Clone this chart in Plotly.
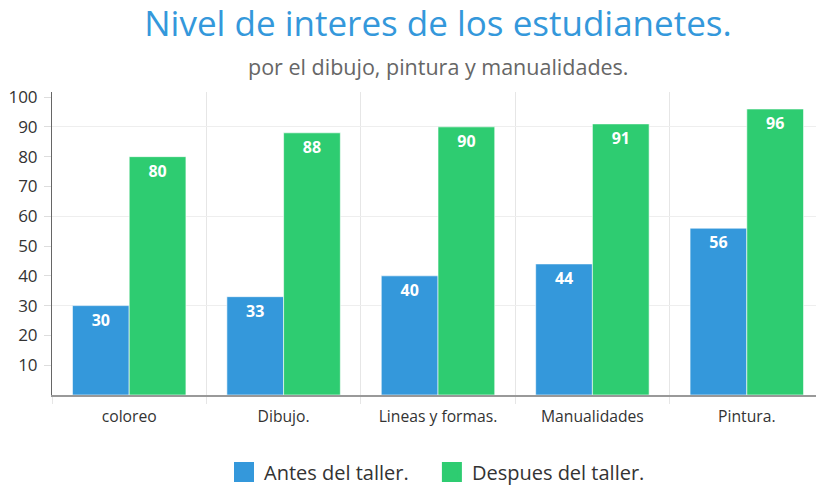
import plotly.graph_objects as go

# Data
categorias = ["coloreo", "Dibujo.", "Lineas y formas.", "Manualidades", "Pintura."]
antes = [30, 33, 40, 44, 56]
despues = [80, 88, 90, 91, 96]
yticks = [10, 20, 30, 40, 50, 60, 70, 80, 90, 100]

azul = "#3498db"
verde = "#2ecc71"
fuente = "Open Sans"

fig = go.Figure()

for nombre, valores, color in [("Antes del taller.", antes, azul),
                               ("Despues del taller.", despues, verde)]:
    fig.add_trace(go.Bar(
        x=categorias, y=valores, name=nombre,
        marker=dict(color=color, line=dict(color="rgba(255,255,255,0.6)", width=1)),
        text=valores, textposition="inside", insidetextanchor="end",
        textfont=dict(family=fuente, size=16, color="white", weight="bold"),
        textangle=0, showlegend=False,
    ))

# legend proxies with bigger squares, one legend each so the spacing can be set
for nombre, color, leg in [("Antes del taller.", azul, "legend"),
                           ("Despues del taller.", verde, "legend2")]:
    fig.add_trace(go.Scatter(
        x=[None], y=[None], mode="markers", name=nombre, legend=leg,
        marker=dict(symbol="square", size=16, color=color,
                    line=dict(color=color, width=4)),
    ))

# grid every 30 on an overlay axis
fig.add_trace(go.Scatter(x=[None], y=[None], yaxis="y2", showlegend=False))

leg_style = dict(orientation="h", xanchor="left", y=-0.254, yanchor="middle",
                 font=dict(size=20, color="#333333"), itemsizing="trace",
                 bgcolor="rgba(0,0,0,0)")

# page body has an 8px margin, so the figure is 816x478
fig.update_layout(
    width=816, height=478,
    margin=dict(l=44, r=0, t=84, b=91, autoexpand=False),
    paper_bgcolor="white", plot_bgcolor="white",
    font=dict(family=fuente, color="#333333", size=16),
    title=dict(text="Nivel de interes de los estudianetes.",
               x=0.5, xref="paper", xanchor="center",
               y=0.967, yref="container", yanchor="middle",
               font=dict(family=fuente, size=35, color="#3498db")),
    annotations=[dict(text="por el dibujo, pintura y manualidades.",
                      xref="paper", yref="paper", x=0.5, y=1.0,
                      yshift=26, xanchor="center", yanchor="middle",
                      showarrow=False,
                      font=dict(family=fuente, size=21.5, color="#666666"))],
    barmode="group", bargap=0.265, bargroupgap=0.0,
    xaxis=dict(type="category", tickson="boundaries", automargin=False,
               showgrid=True, gridcolor="#e6e6e6", gridwidth=1,
               ticks="outside", ticklen=7, tickcolor="#e6e6e6",
               showline=True, linecolor="#999999", linewidth=1.5,
               ticklabelstandoff=6,
               tickfont=dict(size=15.7, color="#333333")),
    yaxis=dict(range=[0, 101.7], tickvals=yticks, automargin=False,
               showgrid=False, zeroline=False,
               ticks="outside", ticklen=7, tickcolor="#dddddd",
               showline=True, linecolor="#666666", linewidth=1,
               ticklabelstandoff=3,
               tickfont=dict(size=17, color="#333333")),
    yaxis2=dict(range=[0, 101.7], dtick=30, overlaying="y", automargin=False,
                showgrid=True, gridcolor="#eeeeee", gridwidth=1,
                showticklabels=False, zeroline=False, layer="below traces"),
    legend=dict(x=0.2228, **leg_style),
    legend2=dict(x=0.4921, **leg_style),
)

fig.write_html("out.html")
